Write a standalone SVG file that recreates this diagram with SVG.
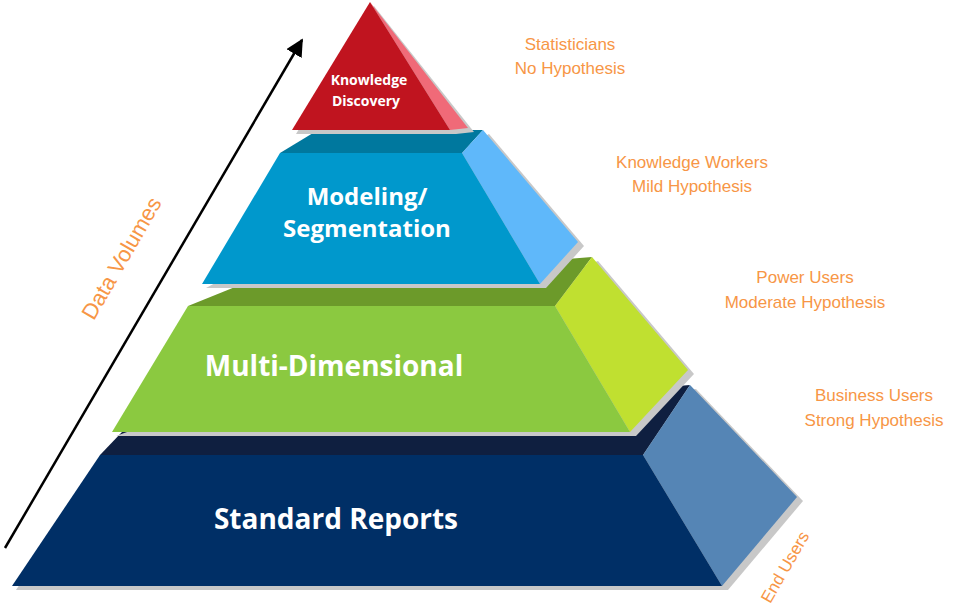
<svg xmlns="http://www.w3.org/2000/svg" width="958" height="608" viewBox="0 0 958 608">
<defs>
<style>
.lbl{font-family:"Open Sans","Liberation Sans",sans-serif;font-weight:bold;fill:#fff;text-anchor:middle}
.side{font-family:"Liberation Sans",Arial,sans-serif;font-size:17px;fill:#F79646;text-anchor:middle}
.sh{fill:#c8c8c8}
</style>
<marker id="ah" viewBox="0 0 10 10" refX="9" refY="5" markerWidth="7" markerHeight="7" orient="auto"><path d="M0,0L10,5L0,10z" fill="#000"/></marker>
</defs>
<rect width="958" height="608" fill="#fff"/>
<g id="connectors">
<line x1="5" y1="548" x2="302" y2="40" stroke="#000" stroke-width="2.5" marker-end="url(#ah)"/>
</g>
<text class="side" transform="translate(128,262) rotate(-60)" font-size="22" style="font-size:22px">Data Volumes</text>
<g id="tier4">
<polygon class="sh" points="696,389 803,501 728,590 18,590 16,590 103,459"/>
<polygon points="100,455 122,432 690,385 643,455" fill="#0f1f40"/>
<polygon points="690,385 797,497 722,586 643,455" fill="#5585b5"/>
<polygon points="100,455 643,455 722,586 12,586" fill="#002f66"/>
<text class="lbl" x="336" y="529" style="font-size:28px">Standard Reports</text>
</g>
<g id="tier3">
<polygon class="sh" points="598,261 694,374 636,436 116,436"/>
<polygon points="188,306 240,285 592,257 555,306" fill="#6c9a2a"/>
<polygon points="592,257 688,370 630,432 555,306" fill="#c0e030"/>
<polygon points="188,306 555,306 630,432 112,432" fill="#8bc940"/>
<text class="lbl" x="334" y="376" style="font-size:28px">Multi-Dimensional</text>
</g>
<g id="tier2">
<polygon class="sh" points="489,134 584,246 546,288 206,288"/>
<polygon points="280,153 318,130 483,130 462,153" fill="#00789e"/>
<polygon points="483,130 578,242 540,284 462,153" fill="#5fb8fa"/>
<polygon points="280,153 462,153 540,284 202,284" fill="#0098cc"/>
<text class="lbl" x="367" y="205" style="font-size:24px">Modeling/</text>
<text class="lbl" x="367" y="237" style="font-size:24px">Segmentation</text>
</g>
<g id="tier1">
<polygon class="sh" points="374,6 474,132 456,134 296,134"/>
<polygon points="370,2 468,128 450,130" fill="#f06a78"/>
<polygon points="370,2 450,130 292,130" fill="#c0141f"/>
<text class="lbl" x="369" y="85" style="font-size:14px">Knowledge</text>
<text class="lbl" x="366" y="106" style="font-size:14px">Discovery</text>
</g>
<g id="labels">
<text class="side" x="570" y="50">Statisticians</text>
<text class="side" x="570" y="74">No Hypothesis</text>
<text class="side" x="692" y="168">Knowledge Workers</text>
<text class="side" x="692" y="192">Mild Hypothesis</text>
<text class="side" x="805" y="283">Power Users</text>
<text class="side" x="805" y="308">Moderate Hypothesis</text>
<text class="side" x="874" y="401">Business Users</text>
<text class="side" x="874" y="426">Strong Hypothesis</text>
<text class="side" transform="translate(790,570) rotate(-60)">End Users</text>
</g>
</svg>
